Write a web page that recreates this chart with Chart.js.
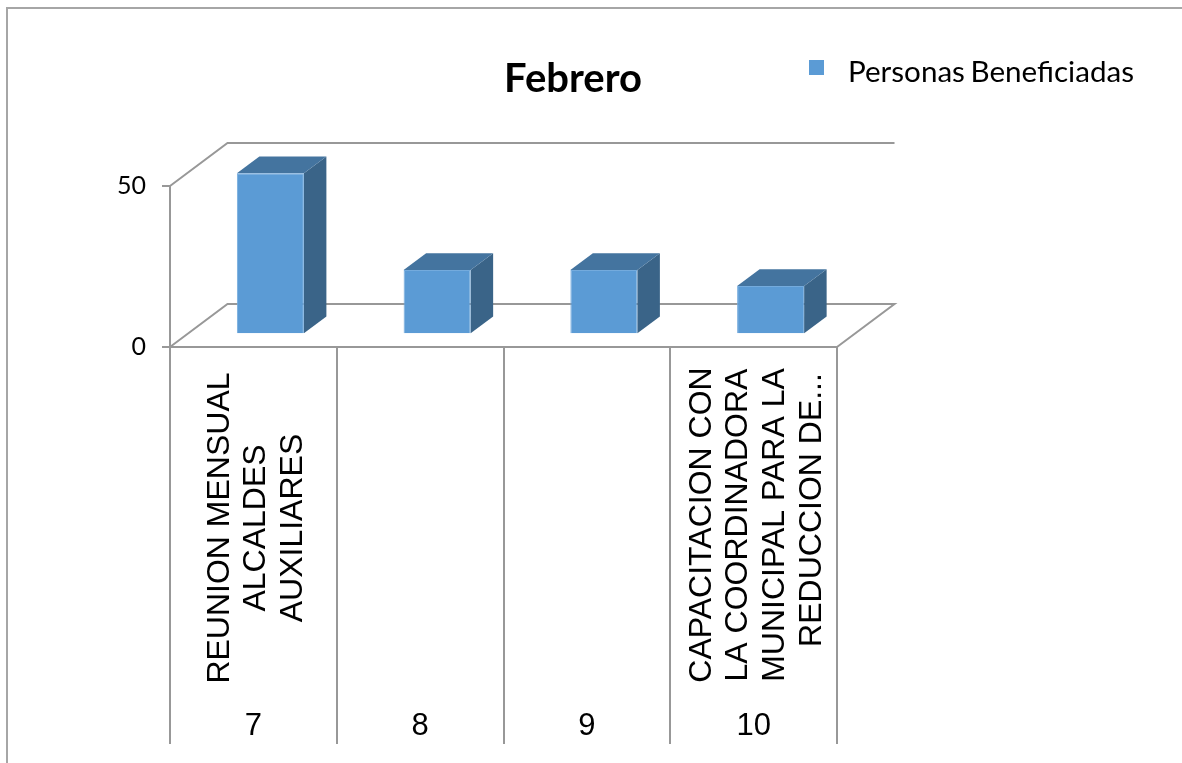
<!DOCTYPE html>
<html>
<head>
<meta charset="utf-8">
<title>Febrero</title>
<script src="https://cdn.jsdelivr.net/npm/chart.js@4/dist/chart.umd.min.js"></script>
<style>
    html, body { margin: 0; padding: 0; background: #fff; overflow: hidden; }
    #wrap { position: relative; width: 1182px; height: 763px; }
</style>
</head>
<body>
<div id="wrap"><canvas id="febreroChart" width="1182" height="763"></canvas></div>
<script>
    const chartTitle = 'Febrero';
    const seriesName = 'Personas Beneficiadas';
    const categories = ['7', '8', '9', '10'];
    const activities = [
        ['REUNION MENSUAL', 'ALCALDES', 'AUXILIARES'],
        [],
        [],
        ['CAPACITACION CON', 'LA COORDINADORA', 'MUNICIPAL PARA LA', 'REDUCCION DE...']
    ];
    const beneficiaries = [50, 20, 20, 15];
    const yTicks = [0, 50];

    const GRID = '#989898';
    const BAR = '#5b9bd5';
    const BAR_TOP = '#44749f';
    const BAR_SIDE = '#3a6488';

    // Depth of the 3D box, and where the bars stand on the floor
    const WALL_DX = 57.5, WALL_DY = -43;
    const BAR_DX = 22.5, BAR_DY = -16.7;
    const FLOOR_DX = 17, FLOOR_DY = -12.7;

    function line(ctx, points) {
        ctx.beginPath();
        points.forEach((p, i) => i ? ctx.lineTo(p[0], p[1]) : ctx.moveTo(p[0], p[1]));
        ctx.stroke();
    }

    function face(ctx, points, color) {
        ctx.beginPath();
        points.forEach((p, i) => i ? ctx.lineTo(p[0], p[1]) : ctx.moveTo(p[0], p[1]));
        ctx.closePath();
        ctx.fillStyle = color;
        ctx.fill();
    }

    const box3d = {
        id: 'box3d',
        beforeDraw(chart) {
            const ctx = chart.ctx;
            ctx.save();
            // frame of the pasted chart, cut off at the right and bottom
            ctx.strokeStyle = '#a6a6a6';
            ctx.lineWidth = 2;
            line(ctx, [[7, chart.height], [7, 8], [chart.width, 8]]);
            ctx.restore();
        },
        beforeDatasetsDraw(chart) {
            const ctx = chart.ctx;
            const { left, right } = chart.chartArea;
            const y0 = chart.scales.y.getPixelForValue(0);
            const y50 = chart.scales.y.getPixelForValue(50);

            ctx.save();
            ctx.strokeStyle = GRID;
            ctx.lineWidth = 2;
            line(ctx, [[left, y0], [left + WALL_DX, y0 + WALL_DY], [right + WALL_DX, y0 + WALL_DY], [right, y0]]);
            line(ctx, [[left, y50], [left + WALL_DX, y50 + WALL_DY], [right + WALL_DX, y50 + WALL_DY]]);
            ctx.restore();

            // side and top faces, the front comes from the library
            ctx.save();
            ctx.translate(FLOOR_DX, FLOOR_DY);
            chart.getDatasetMeta(0).data.forEach(bar => {
                const l = bar.x - bar.width / 2, r = bar.x + bar.width / 2;
                face(ctx, [[r, bar.y], [r + BAR_DX, bar.y + BAR_DY], [r + BAR_DX, bar.base + BAR_DY], [r, bar.base]], BAR_SIDE);
                face(ctx, [[l, bar.y], [l + BAR_DX, bar.y + BAR_DY], [r + BAR_DX, bar.y + BAR_DY], [r, bar.y]], BAR_TOP);
            });
        },
        afterDatasetsDraw(chart) {
            chart.ctx.restore();
        },
        afterDraw(chart) {
            const ctx = chart.ctx;
            const xScale = chart.scales.x;

            // second level of the category axis, rotated
            ctx.save();
            ctx.fillStyle = '#000';
            ctx.font = '32px "Liberation Sans"';
            ctx.textAlign = 'center';
            ctx.textBaseline = 'alphabetic';
            activities.forEach((lines, i) => {
                const cx = xScale.getPixelForTick(i);
                const centre = i === 0 ? 528 : 525;
                lines.forEach((text, n) => {
                    // the cut-off line sits higher, it was centred before truncating
                    const shift = text.endsWith('...') ? -15 : 0;
                    ctx.save();
                    ctx.translate(cx + (n - (lines.length - 1) / 2) * 36.6 + 12, centre + shift);
                    ctx.rotate(-Math.PI / 2);
                    ctx.fillText(text, 0, 0);
                    ctx.restore();
                });
            });

            ctx.font = 'bold 40px Lato';
            ctx.fillText(chartTitle, 573, 92);

            // legend
            ctx.fillStyle = BAR;
            ctx.fillRect(809, 60, 15, 15);
            ctx.fillStyle = '#000';
            ctx.textAlign = 'left';
            ctx.font = '29.6px Lato';
            ctx.wordSpacing = '-2px';
            ctx.fillText(chart.data.datasets[0].label, 848, 82);
            ctx.restore();
        }
    };

    new Chart(document.getElementById('febreroChart').getContext('2d'), {
        type: 'bar',
        data: {
            labels: categories,
            datasets: [{
                label: seriesName,
                data: beneficiaries,
                backgroundColor: BAR,
                borderColor: '#74abdd',
                borderWidth: 1,
                categoryPercentage: 1,
                barPercentage: 0.402,
                clip: false
            }]
        },
        options: {
            responsive: false,
            animation: false,
            layout: { padding: { top: 186, right: 345, bottom: 18, left: 0 } },
            plugins: {
                legend: { display: false },
                title: { display: false },
                tooltip: { enabled: false }
            },
            scales: {
                x: {
                    afterFit(scale) { scale.height = 398; },
                    border: { color: GRID, width: 2 },
                    grid: { drawOnChartArea: false, tickLength: 397, tickColor: GRID, lineWidth: 2 },
                    ticks: {
                        padding: -36,
                        maxRotation: 0,
                        minRotation: 0,
                        color: '#000',
                        font: { family: 'Liberation Sans', size: 31 }
                    }
                },
                y: {
                    min: 0,
                    max: 50,
                    afterFit(scale) { scale.width = 170; },
                    afterBuildTicks(scale) { scale.ticks = yTicks.map(v => ({ value: v })); },
                    border: { color: GRID, width: 2 },
                    grid: { drawOnChartArea: false, tickLength: 8, tickColor: GRID, lineWidth: 2 },
                    ticks: {
                        padding: 16,
                        color: '#000',
                        font: { family: 'Lato', size: 25 }
                    }
                }
            }
        },
        plugins: [box3d]
    });
</script>
</body>
</html>
